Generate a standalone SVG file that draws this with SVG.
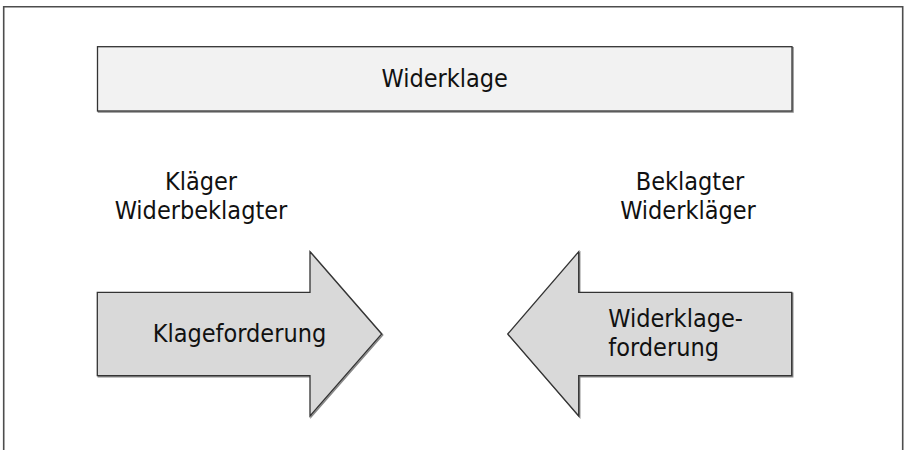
<svg xmlns="http://www.w3.org/2000/svg" width="907" height="450" viewBox="0 0 907 450">
<defs>
<style>
.t{font-family:"DejaVu Sans Condensed","DejaVu Sans",sans-serif;font-size:25px;fill:#111;}
.c{text-anchor:middle;}
.shape{stroke:#333;stroke-width:1.3;}
.shadow{fill:none;stroke:#888;stroke-width:1.5;}
</style>
</defs>
<rect x="0" y="0" width="907" height="450" fill="#fff"/>
<path d="M3.7 460 V6.7 H902.7 V460" fill="none" stroke="#4d4d4d" stroke-width="1.6"/>
<g id="widerklage">
<rect x="98.5" y="47.7" width="694.5" height="64.3" class="shadow"/>
<rect x="97.5" y="46.7" width="694.5" height="64.3" fill="#f2f2f2" class="shape"/>
<text x="444.7" y="86.7" class="t c">Widerklage</text>
</g>
<g id="klaeger">
<text x="201" y="190" class="t c">Kläger</text>
<text x="201" y="219" class="t c">Widerbeklagter</text>
</g>
<g id="beklagter">
<text x="690" y="190" class="t c">Beklagter</text>
<text x="688" y="219" class="t c">Widerkläger</text>
</g>
<g id="klageforderung">
<path d="M98.3 293.3 H311 V252.7 L382.7 335 L311 417 V376.7 H98.3 Z" class="shadow"/>
<path d="M97.3 292.3 H310 V251.7 L381.7 334 L310 416 V375.7 H97.3 Z" fill="#d9d9d9" class="shape"/>
<text x="239.5" y="341.7" class="t c">Klageforderung</text>
</g>
<g id="widerklageforderung">
<path d="M792.7 293.3 H579.7 V252.7 L508.7 335 L579.7 417 V376.7 H792.7 Z" class="shadow"/>
<path d="M791.7 292.3 H578.7 V251.7 L507.7 334 L578.7 416 V375.7 H791.7 Z" fill="#d9d9d9" class="shape"/>
<text x="608.3" y="326.7" class="t">Widerklage-</text>
<text x="608.3" y="355.7" class="t">forderung</text>
</g>
<g id="connectors"></g>
</svg>
